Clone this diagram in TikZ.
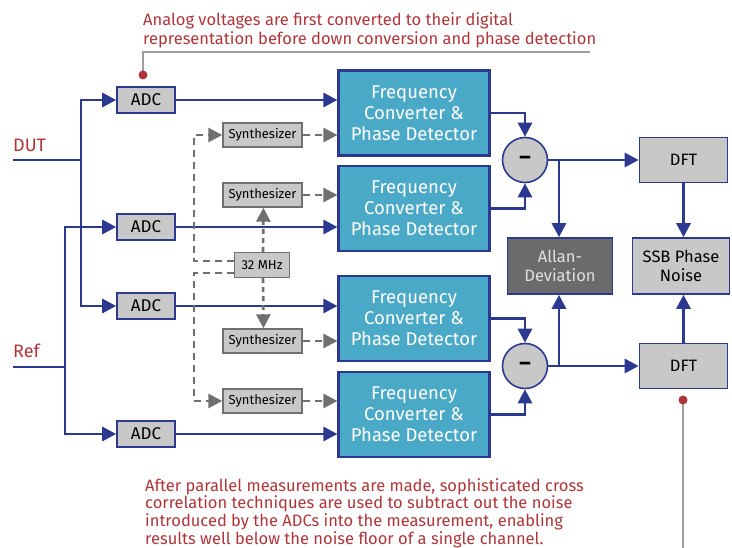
\documentclass[tikz,border=0pt]{standalone}
\usepackage{fontspec}
\setmainfont{Fira Sans}
\usetikzlibrary{arrows.meta}
\definecolor{navy}{HTML}{2B3990}
\definecolor{tealbox}{HTML}{4BA9C8}
\definecolor{boxgray}{HTML}{C8C8C8}
\definecolor{dashgray}{HTML}{707070}
\definecolor{darkbox}{HTML}{6B6B6B}
\definecolor{notered}{HTML}{B0353A}
\definecolor{linegray}{HTML}{9E9E9E}
\begin{document}
\begin{tikzpicture}[x=1pt,y=-1pt,
  sig/.style={draw=navy, line width=2.9pt},
  sigarrow/.style={sig, -{Triangle[length=14pt,width=14pt]}},
  clk/.style={draw=dashgray, line width=2.7pt, dash pattern=on 7pt off 5pt},
  clkarrow/.style={clk, -{Triangle[length=14pt,width=14pt]}},
  adcbox/.style={draw=navy, line width=1.6pt, fill=boxgray, minimum width=58pt, minimum height=26pt, inner sep=0pt, font=\fontsize{17}{17}\selectfont},
  fcbox/.style={draw=navy, line width=2.2pt, fill=tealbox, text=white, minimum width=151pt, minimum height=85pt, inner sep=0pt, align=center, font=\fontsize{18.5}{21}\selectfont},
  synbox/.style={draw=dashgray, line width=1.4pt, fill=boxgray, minimum width=79pt, minimum height=24pt, inner sep=0pt, font=\fontsize{13}{13}\selectfont},
  minus/.style={circle, draw=navy, line width=1.6pt, fill=boxgray, minimum size=45pt, inner sep=0pt, font=\bfseries\fontsize{22}{22}\selectfont},
  outbox/.style={draw=navy, line width=1.6pt, fill=boxgray, inner sep=0pt, align=center, font=\fontsize{16.5}{19}\selectfont},
  noteline/.style={text=notered, anchor=base west, inner sep=0pt, font=\fontsize{16.5}{16.5}\selectfont},
  lead/.style={draw=linegray, line width=1.6pt},
  reddot/.style={circle, fill=notered, minimum size=9pt, inner sep=0pt}
]
\useasboundingbox (0,0) rectangle (732,548);

% ADCs
\node[adcbox] (adc1) at (146,100) {ADC};
\node[adcbox] (adc2) at (146,227) {ADC};
\node[adcbox] (adc3) at (146,306) {ADC};
\node[adcbox] (adc4) at (146,434) {ADC};

% Frequency converters
\node[fcbox] (fc1) at (414,113) {Frequency\\Converter \&\\Phase Detector};
\node[fcbox] (fc2) at (414,208.5) {Frequency\\Converter \&\\Phase Detector};
\node[fcbox] (fc3) at (414,318.5) {Frequency\\Converter \&\\Phase Detector};
\node[fcbox] (fc4) at (414,414.5) {Frequency\\Converter \&\\Phase Detector};

% Synthesizers
\node[synbox] (syn1) at (262.5,135) {Synthesizer};
\node[synbox] (syn2) at (262.5,195) {Synthesizer};
\node[synbox] (syn3) at (262.5,341) {Synthesizer};
\node[synbox] (syn4) at (262.5,401) {Synthesizer};
\node[synbox, minimum width=55pt, minimum height=25pt] (clock) at (262,265) {32 MHz};

% Subtractors
\node[minus] (m1) at (525,160) {--};
\node[minus] (m2) at (525,366) {--};

% Outputs
\node[outbox, minimum width=88pt, minimum height=45pt] (dft1) at (683.5,160) {DFT};
\node[outbox, minimum width=88pt, minimum height=45pt] (dft2) at (683.5,366) {DFT};
\node[outbox, fill=darkbox, text=white!88!black, minimum width=105pt, minimum height=56pt] (allan) at (560,266) {Allan-\\Deviation};
\node[outbox, minimum width=97pt, minimum height=56pt] (ssb) at (681,266) {SSB Phase\\Noise};

% Inputs
\node[text=notered, anchor=base west, inner sep=0pt, font=\fontsize{18}{18}\selectfont] (dutlbl) at (13,152) {DUT};
\node[text=notered, anchor=base west, inner sep=0pt, font=\fontsize{18}{18}\selectfont] (reflbl) at (13,358) {Ref};
\coordinate (dut) at (13,160);
\coordinate (dutbus) at (81,160);
\coordinate (ref) at (13,367);
\coordinate (refbus) at (65,367);

\draw[sig] (dut) -- (dutbus);
\draw[sigarrow] (dutbus) |- (adc1.west);
\draw[sigarrow] (dutbus) |- (adc3.west);
\draw[sig] (ref) -- (refbus);
\draw[sigarrow] (refbus) |- (adc2.west);
\draw[sigarrow] (refbus) |- (adc4.west);

% ADC -> FC
\draw[sigarrow] (adc1.east) -- (adc1.east -| fc1.west);
\draw[sigarrow] (adc2.east) -- (adc2.east -| fc2.west);
\draw[sigarrow] (adc3.east) -- (adc3.east -| fc3.west);
\draw[sigarrow] (adc4.east) -- (adc4.east -| fc4.west);

% Synth -> FC
\draw[clkarrow] (syn1.east) -- (syn1.east -| fc1.west);
\draw[clkarrow] (syn2.east) -- (syn2.east -| fc2.west);
\draw[clkarrow] (syn3.east) -- (syn3.east -| fc3.west);
\draw[clkarrow] (syn4.east) -- (syn4.east -| fc4.west);

% Clock distribution
\coordinate (cornu) at (194,261);
\coordinate (cornd) at (194,273);
\draw[clkarrow] (cornu -| clock.west) -- (cornu) |- (syn1.west);
\draw[clkarrow] (cornd -| clock.west) -- (cornd) |- (syn4.west);
\draw[clkarrow, dash pattern=on 5pt off 4pt] ([xshift=1pt]clock.north) -- ([xshift=1pt]syn2.south);
\draw[clkarrow, dash pattern=on 5pt off 4pt] ([xshift=1pt]clock.south) -- ([xshift=1pt]syn3.north);

% FC -> subtractors
\draw[sigarrow] (fc1.east) -| (m1.north);
\draw[sigarrow] (fc2.east) -| (m1.south);
\draw[sigarrow] (fc3.east) -| (m2.north);
\draw[sigarrow] (fc4.east) -| (m2.south);

% Subtractors -> outputs
\coordinate (b1) at (559,160);
\coordinate (b2) at (559,366);
\draw[sigarrow] (m1.east) -- (dft1.west);
\draw[sigarrow] (b1) -- (b1 |- allan.north);
\draw[sigarrow] (m2.east) -- (dft2.west);
\draw[sigarrow] (b2) -- (b2 |- allan.south);
\draw[sigarrow] (dft1.south) -- (dft1.south |- ssb.north);
\draw[sigarrow] (dft2.north) -- (dft2.north |- ssb.south);

% Annotations
\node[noteline] (tn1) at (143,26) {Analog voltages are first converted to their digital};
\node[noteline] (tn2) at (143,45) {representation before down conversion and phase detection};
\coordinate (lt) at (143,52);
\coordinate (ltend) at (590,52);
\draw[lead] (143,75) -- (lt) -- (ltend);
\node[reddot] (dot1) at (143,75) {};

\node[noteline] (bn1) at (145,491) {After parallel measurements are made, sophisticated cross};
\node[noteline] (bn2) at (145,508.5) {correlation techniques are used to subtract out the noise};
\node[noteline] (bn3) at (145,526.5) {introduced by the ADCs into the measurement, enabling};
\node[noteline] (bn4) at (145,544) {results well below the noise floor of a single channel.};
\coordinate (lb) at (683,548);
\draw[lead] (683,400) -- (lb);
\node[reddot] (dot2) at (683,400) {};
\end{tikzpicture}
\end{document}
